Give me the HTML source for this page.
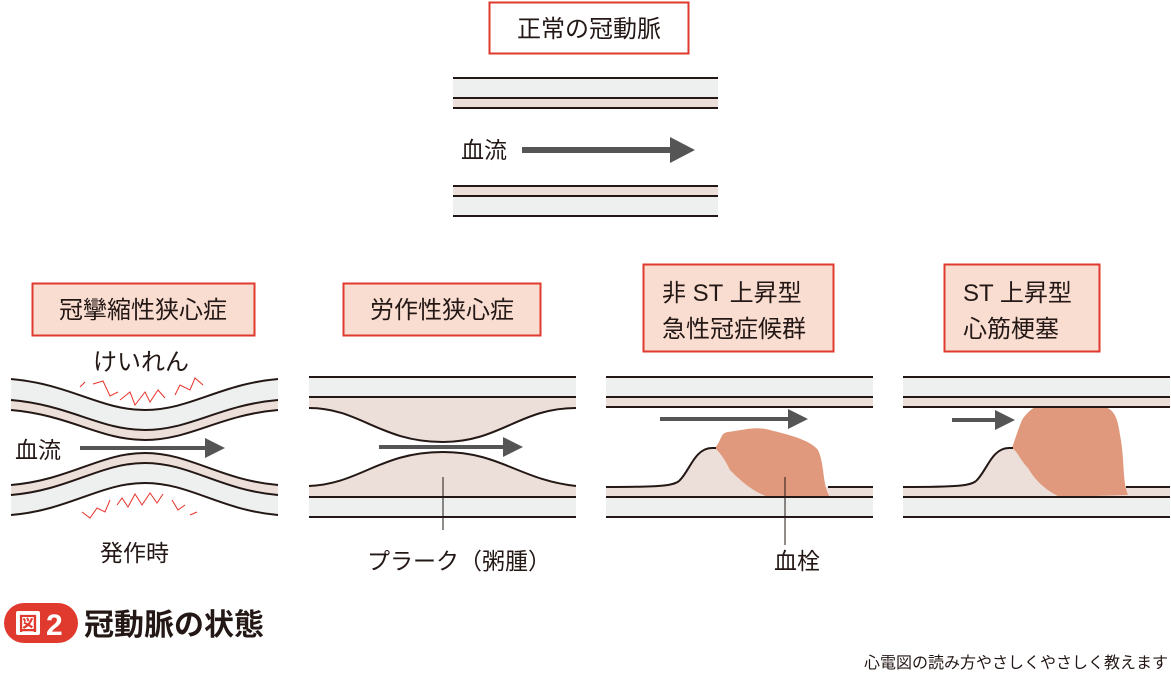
<!DOCTYPE html>
<html><head><meta charset="utf-8"><style>
body{margin:0;background:#fff;}
svg{display:block;font-family:"Liberation Sans","Noto Sans CJK JP",sans-serif;}
</style></head><body>
<svg width="1171" height="684" viewBox="0 0 1171 684" xmlns="http://www.w3.org/2000/svg">
<g fill="#231815" font-size="22">
<!-- top -->
<rect x="489.5" y="2.5" width="199" height="51" fill="#fff" stroke="#e03a2e" stroke-width="2"/>
<text x="589" y="37" text-anchor="middle" font-size="24">正常の冠動脈</text>
<rect x="453" y="78" width="265" height="20" fill="#eef0ef"/>
<rect x="453" y="98" width="265" height="10" fill="#ecdfd9"/>
<rect x="453" y="186" width="265" height="10" fill="#ecdfd9"/>
<rect x="453" y="196" width="265" height="20" fill="#eef0ef"/>
<g stroke="#231815" stroke-width="2"><line x1="453" y1="78" x2="718" y2="78"/><line x1="453" y1="98" x2="718" y2="98"/><line x1="453" y1="108" x2="718" y2="108"/><line x1="453" y1="186" x2="718" y2="186"/><line x1="453" y1="196" x2="718" y2="196"/><line x1="453" y1="216" x2="718" y2="216"/></g>
<text x="461" y="158" font-size="23">血流</text>
<line x1="522" y1="150" x2="670" y2="150" stroke="#555" stroke-width="6"/><path d="M670,137 L695,150 L670,163z" fill="#555"/>

<!-- labels -->
<rect x="32.5" y="283.5" width="222" height="52" fill="#f9ddd1" stroke="#e03a2e" stroke-width="2"/>
<text x="143" y="318" text-anchor="middle" font-size="24">冠攣縮性狭心症</text>
<rect x="343.5" y="283.5" width="197" height="52" fill="#f9ddd1" stroke="#e03a2e" stroke-width="2"/>
<text x="442" y="318" text-anchor="middle" font-size="24">労作性狭心症</text>
<rect x="643.5" y="264.5" width="190" height="87" fill="#f9ddd1" stroke="#e03a2e" stroke-width="2"/>
<text x="662" y="301" font-size="24">非 ST 上昇型</text><text x="662" y="337" font-size="24">急性冠症候群</text>
<rect x="944.5" y="264.5" width="155" height="87" fill="#f9ddd1" stroke="#e03a2e" stroke-width="2"/>
<text x="963" y="301" font-size="24">ST 上昇型</text><text x="963" y="337" font-size="24">心筋梗塞</text>

<!-- panel 1 -->
<path d="M11,379 C70,384 100,410 145,410 C190,410 220,384 278,379 L278,400 C220,405 190,430 145,430 C100,430 70,405 11,400z" fill="#eef0ef"/>
<path d="M11,400 C70,405 100,430 145,430 C190,430 220,405 278,400 L278,410 C220,415 190,440 145,440 C100,440 70,415 11,410z" fill="#ecdfd9"/>
<path d="M11,485 C70,480 100,453 145,453 C190,453 220,480 278,485 L278,495 C220,490 190,463 145,463 C100,463 70,490 11,495z" fill="#ecdfd9"/>
<path d="M11,495 C70,490 100,463 145,463 C190,463 220,490 278,495 L278,515 C220,510 190,483 145,483 C100,483 70,510 11,515z" fill="#eef0ef"/>
<g fill="none" stroke="#231815" stroke-width="2">
<path d="M11,379 C70,384 100,410 145,410 C190,410 220,384 278,379"/>
<path d="M11,400 C70,405 100,430 145,430 C190,430 220,405 278,400"/>
<path d="M11,410 C70,415 100,440 145,440 C190,440 220,415 278,410"/>
<path d="M11,485 C70,480 100,453 145,453 C190,453 220,480 278,485"/>
<path d="M11,495 C70,490 100,463 145,463 C190,463 220,490 278,495"/>
<path d="M11,515 C70,510 100,483 145,483 C190,483 220,510 278,515"/>
</g>
<g fill="none" stroke="#e8322a" stroke-width="1">
<path d="M80,387 L85,382 M93,384 L103,381 L110,396 L118,392 M120,400 L130,392 L135,405 L145,392 L150,402 L158,390 L165,398 M175,395 L180,385 L190,390 L195,378 L203,385"/>
<path d="M82,512 L90,518 L97,508 L105,512 L110,500 M117,505 L122,498 L128,507 L135,494 L142,505 L150,493 L157,503 L163,494 M172,500 L178,510 L185,505 M190,515 L197,512"/>
</g>
<text x="93" y="370" font-size="24">けいれん</text>
<text x="15" y="458" font-size="23">血流</text>
<line x1="80" y1="448" x2="205" y2="448" stroke="#555" stroke-width="4"/><path d="M205,438 L225,448 L205,458z" fill="#555"/>
<text x="100" y="561" font-size="23">発作時</text>

<!-- panel 2 -->
<rect x="309" y="377" width="267" height="20" fill="#eef0ef"/>
<path d="M309,397 L576,397 L576,408 C520,408 500,442 443,442 C380,442 360,408 309,408z" fill="#ecdfd9"/>
<path d="M309,487 L576,487 L576,486 C520,480 500,452 443,452 C380,452 360,484 309,486z" fill="#ecdfd9"/>
<rect x="309" y="487" width="267" height="10" fill="#ecdfd9"/>
<rect x="309" y="497" width="267" height="20" fill="#eef0ef"/>
<g fill="none" stroke="#231815" stroke-width="2">
<line x1="309" y1="377" x2="576" y2="377"/><line x1="309" y1="397" x2="576" y2="397"/>
<path d="M309,408 C360,408 380,442 443,442 C500,442 520,408 576,408"/>
<path d="M309,486 C360,484 380,452 443,452 C500,452 520,480 576,486"/>
<line x1="309" y1="497" x2="576" y2="497"/><line x1="309" y1="517" x2="576" y2="517"/>
</g>
<line x1="379" y1="447" x2="503" y2="447" stroke="#555" stroke-width="4"/><path d="M503,437 L523,447 L503,457z" fill="#555"/>
<line x1="443" y1="477" x2="443" y2="530" stroke="#231815" stroke-width="1"/>
<text x="367" y="569" font-size="23">プラーク（粥腫）</text>

<!-- panel 3 -->
<rect x="606" y="377" width="267" height="20" fill="#eef0ef"/>
<rect x="606" y="397" width="267" height="10" fill="#ecdfd9"/>
<path d="M606,487 C660,487 675,486 680,480 C690,470 695,448 712,448 C740,448 760,487 790,487z" fill="#ecdfd9"/>
<rect x="606" y="487" width="267" height="10" fill="#ecdfd9"/>
<rect x="606" y="497" width="267" height="20" fill="#eef0ef"/>
<path d="M715,448 C722,440 720,433 728,432 C745,430 755,426 770,430 C790,435 810,440 818,450 C825,465 822,485 830,497 L768,497 C750,490 740,480 730,470 C725,460 722,455 715,448z" fill="#e0997c"/>
<g fill="none" stroke="#231815" stroke-width="2">
<line x1="606" y1="377" x2="873" y2="377"/><line x1="606" y1="397" x2="873" y2="397"/><line x1="606" y1="407" x2="873" y2="407"/>
<path d="M606,487 C660,487 675,486 680,480 C690,470 695,448 712,448 L716,448"/>
<line x1="828" y1="487" x2="873" y2="487"/><line x1="606" y1="497" x2="873" y2="497"/><line x1="606" y1="517" x2="873" y2="517"/>
</g>
<line x1="660" y1="419" x2="788" y2="419" stroke="#555" stroke-width="4"/><path d="M788,409 L808,419 L788,429z" fill="#555"/>
<line x1="785" y1="477" x2="785" y2="545" stroke="#231815" stroke-width="1"/>
<text x="774" y="569" font-size="23">血栓</text>

<!-- panel 4 -->
<rect x="903" y="377" width="267" height="20" fill="#eef0ef"/>
<rect x="903" y="397" width="267" height="10" fill="#ecdfd9"/>
<path d="M903,487 C957,487 972,486 977,480 C987,470 992,448 1009,448 C1037,448 1057,487 1087,487z" fill="#ecdfd9"/>
<rect x="903" y="487" width="267" height="10" fill="#ecdfd9"/>
<rect x="903" y="497" width="267" height="20" fill="#eef0ef"/>
<path d="M1012,448 C1018,430 1020,425 1022,420 C1025,415 1030,410 1035,407 L1105,407 C1115,410 1118,420 1120,435 C1125,460 1122,480 1128,495 L1060,497 C1045,490 1035,480 1028,468 C1020,460 1018,452 1012,448z" fill="#e0997c"/>
<g fill="none" stroke="#231815" stroke-width="2">
<line x1="903" y1="377" x2="1170" y2="377"/><line x1="903" y1="397" x2="1170" y2="397"/><line x1="903" y1="407" x2="1170" y2="407"/>
<path d="M903,487 C957,487 972,486 977,480 C987,470 992,448 1009,448 L1013,448"/>
<line x1="1126" y1="487" x2="1170" y2="487"/><line x1="903" y1="497" x2="1170" y2="497"/><line x1="903" y1="517" x2="1170" y2="517"/>
</g>
<line x1="952" y1="420" x2="995" y2="420" stroke="#555" stroke-width="4"/><path d="M995,410 L1015,420 L995,430z" fill="#555"/>

<!-- caption -->
<rect x="4" y="603" width="74" height="40" rx="20" fill="#e03a2e"/>
<rect x="16" y="611" width="24" height="24" fill="#fff" rx="2"/>
<text x="28" y="630" text-anchor="middle" font-size="19" fill="#e03a2e" font-weight="bold">図</text>
<text x="46" y="635" font-size="30" fill="#fff" font-weight="bold">2</text>
<text x="84" y="635" font-size="30" font-weight="bold">冠動脈の状態</text>
<text x="1168" y="668" text-anchor="end" font-size="16">心電図の読み方やさしくやさしく教えます</text>
</g>
</svg>
</body></html>
